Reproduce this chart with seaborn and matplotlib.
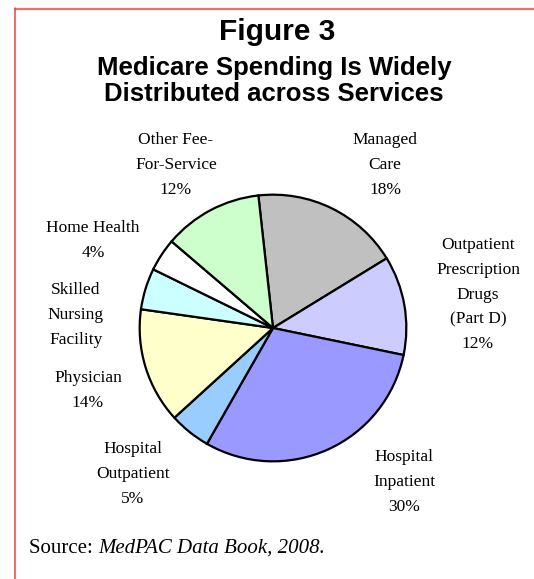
import matplotlib
matplotlib.use("Agg")
import matplotlib.pyplot as plt
from matplotlib.lines import Line2D
import seaborn as sns

# Medicare spending shares by service (percent), clockwise from the top
services = [
    "Managed\nCare",
    "Outpatient\nPrescription\nDrugs\n(Part D)",
    "Hospital\nInpatient",
    "Hospital\nOutpatient",
    "Physician",
    "Skilled\nNursing\nFacility",
    "Home Health",
    "Other Fee-\nFor-Service",
]
shares = [18, 12, 30, 5, 14, 5, 4, 12]
show_pct = [True, True, True, True, True, False, True, True]
slice_colors = ["#C0C0C0", "#CCCCFF", "#9999FF", "#99CCFF",
                "#FFFFCC", "#CCFFFF", "#FFFFFF", "#CCFFCC"]

title = "Figure 3"
subtitle_lines = ["Medicare Spending Is Widely", "Distributed across Services"]
source_lead = "Source:"
source_ref = "MedPAC Data Book, 2008."

W, H = 534, 579
DPI = 100

sns.set_theme(style="white")
plt.rcParams["font.family"] = ["Liberation Sans", "DejaVu Sans"]

fig = plt.figure(figsize=(W / DPI, H / DPI), dpi=DPI)
fig.patch.set_facecolor("white")


def fx(px):
    return px / W


def fy(py):
    return 1 - py / H


# pie area: centre (273, 328) px, radius 136 px
cx, cy, r = 273, 328, 136
ax = fig.add_axes([fx(cx - r), fy(cy + r), 2 * r / W, 2 * r / H])
ax.pie(
    shares,
    colors=slice_colors,
    startangle=96.3,
    counterclock=False,
    radius=1.0,
    wedgeprops=dict(edgecolor="black", linewidth=1.6),
)
ax.set_xlim(-1.02, 1.02)
ax.set_ylim(-1.02, 1.02)
ax.set_axis_off()

# label anchor points (centre of the label block, first line y), in pixels
label_pos = [
    (385, 140),
    (478, 245),
    (404, 457),
    (133, 449),
    (88, 378),
    (76, 290),
    (93, 228),
    (176, 140),
]
line_h = 24.8
serif = ["Liberation Serif", "DejaVu Serif"]
for name, val, show, (px, py) in zip(services, shares, show_pct, label_pos):
    lines = name.split("\n") + ([f"{val}%"] if show else [])
    for i, line in enumerate(lines):
        fig.text(fx(px), fy(py + i * line_h), line, ha="center", va="center",
                 fontsize=12.5, family=serif, color="black")

# heading, placed by baseline
fig.text(fx(277), fy(40), title, ha="center", va="baseline",
         fontsize=21.5, fontweight="bold", color="black")
for i, line in enumerate(subtitle_lines):
    fig.text(fx(274), fy(75 + i * 26), line, ha="center", va="baseline",
             fontsize=18.5, fontweight="bold", color="black")

# source note: plain lead-in followed by the italic reference
lead = fig.text(fx(29), fy(553), source_lead + " ", ha="left",
                va="baseline", fontsize=15, family=serif, color="black")
renderer = fig.canvas.get_renderer()
bb = lead.get_window_extent(renderer=renderer)
fig.text(bb.x1 / W, fy(553), source_ref, ha="left",
         va="baseline", fontsize=15, family=serif, style="italic",
         color="black")

# frame lines along the top and left edges
fig.add_artist(Line2D([fx(15), 1], [fy(9), fy(9)], color="#EE6F6A",
                      linewidth=1.6, transform=fig.transFigure))
fig.add_artist(Line2D([fx(15), fx(15)], [fy(8), 0], color="#E8453C",
                      linewidth=1.1, transform=fig.transFigure))

fig.savefig("out.png", dpi=DPI, facecolor="white")
